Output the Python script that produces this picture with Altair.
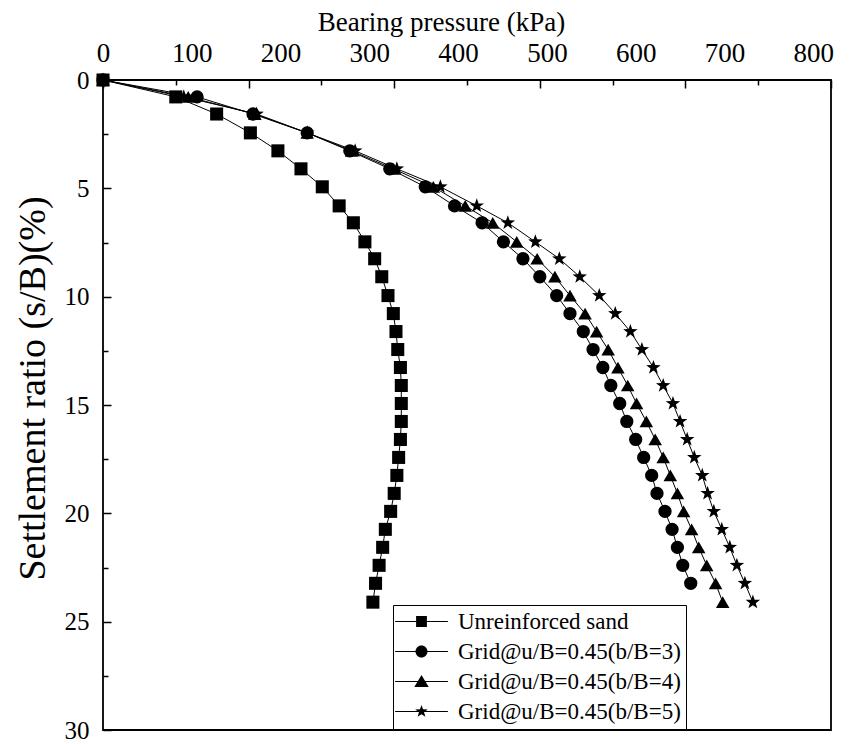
import altair as alt
import pandas as pd

# ---- data ----
settlement = [0, 0.78, 1.57, 2.44, 3.27, 4.10, 4.93, 5.81, 6.59, 7.47, 8.25, 9.08, 9.95,
              10.78, 11.61, 12.44, 13.27, 14.10, 14.93, 15.76, 16.59, 17.42, 18.25,
              19.08, 19.91, 20.74, 21.57, 22.40, 23.23, 24.10]

p_unreinforced = [0, 82, 128, 166, 197, 223, 247, 266, 282, 295, 306, 314, 321, 327, 330,
                  332, 335, 336, 336, 336, 335, 333, 331, 328, 324, 318, 315, 311, 307, 304]
p_b3 = [0, 106, 169, 230, 278, 323, 363, 396, 427, 451, 473, 492, 511, 526, 541, 552,
        563, 572, 582, 590, 600, 609, 618, 624, 633, 641, 647, 653, 662]
p_b4 = [0, 96, 171, 230, 280, 327, 372, 408, 439, 466, 489, 509, 526, 543, 556, 569,
        580, 591, 601, 612, 622, 631, 639, 647, 654, 663, 671, 680, 690, 698]
p_b5 = [0, 91, 173, 230, 284, 331, 380, 421, 456, 487, 514, 537, 559, 577, 594, 607,
        620, 631, 642, 650, 658, 666, 675, 681, 688, 697, 706, 714, 723, 732]

series_names = ["Unreinforced sand", "Grid@u/B=0.45(b/B=3)",
                "Grid@u/B=0.45(b/B=4)", "Grid@u/B=0.45(b/B=5)"]
series_values = [p_unreinforced, p_b3, p_b4, p_b5]

x_label_values = [0, 100, 200, 300, 400, 500, 600, 700, 800]
x_major_ticks = [0, 164, 328, 492, 656, 820]
x_minor_ticks = [82, 246, 410, 574, 738]
y_label_values = [0, 5, 10, 15, 20, 25, 30]
y_minor_ticks = [2.5, 7.5, 12.5, 17.5, 22.5, 27.5]

rows = []
for name, vals in zip(series_names, series_values):
    for i, v in enumerate(vals):
        rows.append({"series": name, "idx": i, "pressure": v, "settlement": settlement[i]})
df = pd.DataFrame(rows)

STAR = ("M0,-1.1L0.26,-0.36L1.05,-0.34L0.42,0.14L0.65,0.89L0,0.44L-0.65,0.89"
        "L-0.42,0.14L-1.05,-0.34L-0.26,-0.36Z")
plot_shapes = ["square", "circle", "triangle-up", STAR]
LINE = "M-4.4,-0.09H4.4V0.09H-4.4Z"
legend_shapes = [
    LINE + "M-0.9,-0.9H0.9V0.9H-0.9Z",
    LINE + "M-1,0A1,1,0,1,1,1,0A1,1,0,1,1,-1,0Z",
    LINE + "M0,-1.1L1.2,0.9L-1.2,0.9Z",
    LINE + STAR,
]

FONT = "Liberation Serif"
x_scale = alt.Scale(domain=[0, 820], nice=False, zero=False)
y_scale = alt.Scale(domain=[0, 30], reverse=True, nice=False)

base = alt.Chart(df)

# layer 1: lines + labelled axes
lines = base.mark_line(color="black", strokeWidth=1).encode(
    x=alt.X("pressure:Q", scale=x_scale,
            axis=alt.Axis(orient="top", values=x_label_values, ticks=False, domain=False,
                          grid=False, labelPadding=13, labelFontSize=27, labelFont=FONT,
                          labelColor="black", title="Bearing pressure (kPa)",
                          titleFont=FONT, titleFontSize=27, titleFontWeight="normal",
                          titleColor="black", titlePadding=3, titleX=338,
                          labelFlush=False)),
    y=alt.Y("settlement:Q", scale=y_scale,
            axis=alt.Axis(orient="left", values=y_label_values, ticks=False, domain=False,
                          grid=False, labelPadding=14, labelFontSize=25, labelFont=FONT,
                          labelColor="black", title="Settlement ratio (s/B)(%)",
                          titleFont=FONT, titleFontSize=38, titleFontWeight="normal",
                          titleColor="black", titlePadding=12, titleY=308,
                          labelFlush=False)),
    detail="series:N",
    order=alt.Order("idx:Q"),
)

# layer 2: markers + major inward ticks
points = base.mark_point(filled=True, color="black", opacity=1).encode(
    x=alt.X("pressure:Q", scale=x_scale,
            axis=alt.Axis(orient="top", values=x_major_ticks, labels=False, domain=False,
                          grid=False, tickSize=8, tickWidth=1.5, tickColor="black",
                          offset=-8, title=None)),
    y=alt.Y("settlement:Q", scale=y_scale,
            axis=alt.Axis(orient="left", values=y_label_values, labels=False, domain=False,
                          grid=False, tickSize=8, tickWidth=1.5, tickColor="black",
                          offset=-8, title=None)),
    shape=alt.Shape("series:N", scale=alt.Scale(domain=series_names, range=plot_shapes),
                    legend=None),
    size=alt.Size("series:N", scale=alt.Scale(domain=series_names, range=[170, 190, 230, 240]),
                  legend=None),
)

# layer 3: legend (invisible marks) + minor inward ticks
legend_layer = base.mark_point(filled=True, color="black", opacity=0).encode(
    x=alt.X("pressure:Q", scale=x_scale,
            axis=alt.Axis(orient="top", values=x_minor_ticks, labels=False, domain=False,
                          grid=False, tickSize=5, tickWidth=1.5, tickColor="black",
                          offset=-5, title=None)),
    y=alt.Y("settlement:Q", scale=y_scale,
            axis=alt.Axis(orient="left", values=y_minor_ticks, labels=False, domain=False,
                          grid=False, tickSize=5, tickWidth=1.5, tickColor="black",
                          offset=-5, title=None)),
    shape=alt.Shape("series:N", scale=alt.Scale(domain=series_names, range=legend_shapes),
                    legend=alt.Legend(title=None, orient="none", legendX=290, legendY=525,
                                      padding=5, strokeColor="black", fillColor="white",
                                      labelFont=FONT, labelFontSize=23, labelColor="black",
                                      symbolSize=144, symbolOpacity=1,
                                      symbolFillColor="black", symbolStrokeColor="black",
                                      symbolStrokeWidth=0.5, symbolOffset=12, labelOffset=25,
                                      rowPadding=6, labelLimit=400)),
)

chart = alt.layer(lines, points, legend_layer).resolve_scale(
    shape="independent", size="independent"
).resolve_axis(x="independent", y="independent").properties(
    width=728, height=650,
    autosize=alt.AutoSizeParams(type="none"),
    padding={"left": 95, "top": 72, "right": 15, "bottom": 12},
).configure(background="white", font=FONT).configure_view(
    stroke="black", strokeWidth=1.8
).configure_axis(labelFont=FONT, titleFont=FONT).configure_legend(labelFont=FONT)

chart.save("out.html", embed_options={"renderer": "svg", "actions": False})
